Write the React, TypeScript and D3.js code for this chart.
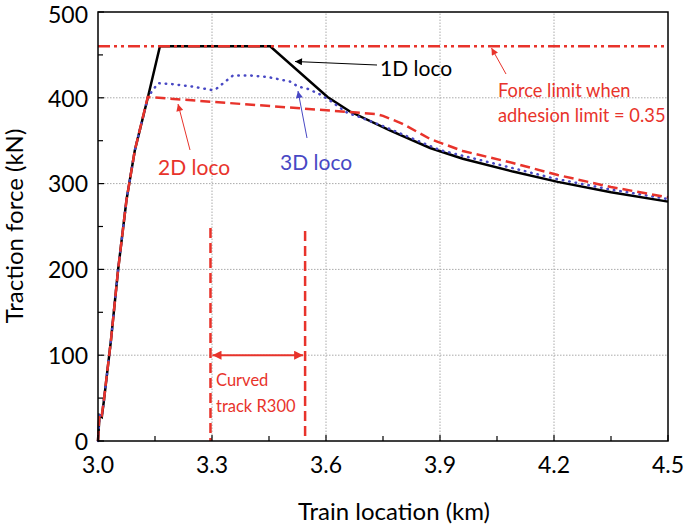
import React from 'react';
import * as d3 from 'd3';

// x in km, y in kN
const loco1D: [number, number][] = [
  [3.0, 0], [3.004, 30], [3.01, 28], [3.015, 45], [3.034, 117], [3.053, 200], [3.075, 281],
  [3.097, 339], [3.131, 400], [3.163, 460], [3.453, 460], [3.604, 401], [3.663, 384],
  [3.768, 362], [3.874, 341.5], [3.96, 329], [4.092, 314], [4.21, 302], [4.35, 290], [4.5, 279],
];

const loco2D: [number, number][] = [
  [3.0, 0], [3.004, 32], [3.01, 30], [3.015, 46], [3.034, 117], [3.053, 200], [3.075, 281],
  [3.097, 339], [3.131, 401], [3.733, 381], [3.75, 379], [3.8, 370], [3.874, 352],
  [3.96, 338], [4.092, 324], [4.21, 310], [4.35, 296], [4.5, 284],
];

const loco3D: [number, number][] = [
  [3.0, 0], [3.004, 30], [3.01, 28], [3.015, 45], [3.034, 117], [3.053, 200], [3.075, 281],
  [3.097, 339], [3.131, 400], [3.141, 407], [3.158, 417], [3.194, 416], [3.25, 413],
  [3.3, 409], [3.31, 410], [3.355, 426], [3.4, 426], [3.45, 424], [3.505, 419], [3.527, 413],
  [3.549, 411], [3.584, 404], [3.61, 397], [3.632, 390], [3.658, 382], [3.68, 379],
  [3.75, 367], [3.9, 339], [4.092, 318], [4.2, 306], [4.35, 293], [4.5, 282],
];

const forceLimit = 460;
const curveStart = 3.296;
const curveEnd = 3.545;

const xTicks = [3.0, 3.3, 3.6, 3.9, 4.2, 4.5];
const xMinor = [3.15, 3.45, 3.75, 4.05, 4.35];
const yTicks = [0, 100, 200, 300, 400, 500];
const yMinor = [50, 150, 250, 350, 450];

const RED = '#e8332b';
const BLUE = '#4848c4';
const FONT = 'Lato, "Open Sans", sans-serif';

export default function App() {
  const x = d3.scaleLinear().domain([3.0, 4.5]).range([98, 668]);
  const y = d3.scaleLinear().domain([0, 500]).range([441, 12]);
  const line = d3
    .line<[number, number]>()
    .x((d) => x(d[0]))
    .y((d) => y(d[1]));

  const [x0, x1] = x.range();
  const [y0, y1] = y.range();

  return (
    <div style={{ position: 'absolute', left: 0, top: 0 }}>
      <svg width={685} height={526} style={{ display: 'block', background: '#fff' }} fontFamily={FONT}>
        <defs>
          <marker id="arrK" viewBox="0 0 10 10" refX="10" refY="5" markerWidth="9" markerHeight="7" orient="auto" markerUnits="userSpaceOnUse">
            <path d="M0,0 L10,5 L0,10 z" fill="#000" />
          </marker>
          <marker id="arrR" viewBox="0 0 10 10" refX="10" refY="5" markerWidth="9" markerHeight="7" orient="auto" markerUnits="userSpaceOnUse">
            <path d="M0,0 L10,5 L0,10 z" fill={RED} />
          </marker>
          <marker id="arrB" viewBox="0 0 10 10" refX="10" refY="5" markerWidth="9" markerHeight="7" orient="auto" markerUnits="userSpaceOnUse">
            <path d="M0,0 L10,5 L0,10 z" fill={BLUE} />
          </marker>
          <marker id="arrR2" viewBox="0 0 10 10" refX="10" refY="5" markerWidth="12" markerHeight="9" orient="auto-start-reverse" markerUnits="userSpaceOnUse">
            <path d="M0,0 L10,5 L0,10 z" fill={RED} />
          </marker>
        </defs>

        {/* grid */}
        {xTicks.slice(1, -1).map((t) => (
          <line key={'gx' + t} x1={x(t)} x2={x(t)} y1={y0} y2={y1} stroke="#aaa" strokeWidth={1} strokeDasharray="1.5,1.5" />
        ))}
        {yTicks.slice(1, -1).map((t) => (
          <line key={'gy' + t} x1={x0} x2={x1} y1={y(t)} y2={y(t)} stroke="#aaa" strokeWidth={1} strokeDasharray="1.5,1.5" />
        ))}

        {/* curved track section */}
        <line x1={x(curveStart)} x2={x(curveStart)} y1={228} y2={y0} stroke={RED} strokeWidth={2.5} strokeDasharray="10,5" />
        <line x1={x(curveEnd)} x2={x(curveEnd)} y1={231} y2={y0} stroke={RED} strokeWidth={2.5} strokeDasharray="10,5" />
        <line
          x1={x(curveStart) + 2}
          x2={x(curveEnd) - 2}
          y1={y(100)}
          y2={y(100)}
          stroke={RED}
          strokeWidth={2}
          markerStart="url(#arrR2)"
          markerEnd="url(#arrR2)"
        />
        <text x={216} y={386} fill={RED} fontSize={16.5}>Curved</text>
        <text x={216} y={412} fill={RED} fontSize={16.5}>track R300</text>

        {/* series */}
        <path d={line(loco1D) || ''} fill="none" stroke="#000" strokeWidth={2.5} />
        <path d={line(loco3D) || ''} fill="none" stroke={BLUE} strokeWidth={2.5} strokeDasharray="0.5,6" strokeLinecap="round" />
        <path d={line(loco2D) || ''} fill="none" stroke={RED} strokeWidth={2.5} strokeDasharray="10,5" />
        <line x1={x0} x2={x1} y1={y(forceLimit)} y2={y(forceLimit)} stroke={RED} strokeWidth={2.5} strokeDasharray="12,4,3,4,3,4" />

        {/* annotations */}
        <line x1={377} y1={65} x2={295} y2={61.5} stroke="#000" strokeWidth={1} markerEnd="url(#arrK)" />
        <text x={380} y={76} fill="#000" fontSize={21}>1D loco</text>

        <line x1={506} y1={74} x2={491.5} y2={48} stroke={RED} strokeWidth={1} markerEnd="url(#arrR)" />
        <text x={498} y={97} fill={RED} fontSize={18.3}>Force limit when</text>
        <text x={498} y={122} fill={RED} fontSize={18.3}>adhesion limit = 0.35</text>

        <line x1={190} y1={150} x2={178} y2={104} stroke={RED} strokeWidth={1} markerEnd="url(#arrR)" />
        <text x={158} y={175} fill={RED} fontSize={21}>2D loco</text>

        <line x1={307} y1={138} x2={298} y2={91} stroke={BLUE} strokeWidth={1} markerEnd="url(#arrB)" />
        <text x={280} y={170} fill={BLUE} fontSize={21}>3D loco</text>

        {/* frame */}
        <rect x={x0} y={y1} width={x1 - x0} height={y0 - y1} fill="none" stroke="#000" strokeWidth={1.5} />

        {/* ticks */}
        {xTicks.map((t) => (
          <line key={'tx' + t} x1={x(t)} x2={x(t)} y1={y0} y2={y0 - 6} stroke="#000" strokeWidth={1.2} />
        ))}
        {xMinor.map((t) => (
          <line key={'mx' + t} x1={x(t)} x2={x(t)} y1={y0} y2={y0 - 5} stroke="#000" strokeWidth={1.2} />
        ))}
        {yTicks.map((t) => (
          <line key={'ty' + t} x1={x0} x2={x0 + 6} y1={y(t)} y2={y(t)} stroke="#000" strokeWidth={1.2} />
        ))}
        {yMinor.map((t) => (
          <line key={'my' + t} x1={x0} x2={x0 + 5} y1={y(t)} y2={y(t)} stroke="#000" strokeWidth={1.2} />
        ))}

        {/* tick labels */}
        {xTicks.map((t) => (
          <text key={'lx' + t} x={x(t)} y={473} textAnchor="middle" fontSize={23} fill="#000">
            {t.toFixed(1)}
          </text>
        ))}
        {yTicks.map((t) => (
          <text key={'ly' + t} x={88} y={Math.max(y(t), 14)} dy="0.38em" textAnchor="end" fontSize={23} fill="#000">
            {t}
          </text>
        ))}

        {/* axis titles */}
        <text x={394} y={520} textAnchor="middle" fontSize={24} fill="#000">Train location (km)</text>
        <text transform={`translate(23, 226) rotate(-90)`} textAnchor="middle" fontSize={24} fill="#000">
          Traction force (kN)
        </text>
      </svg>
    </div>
  );
}
